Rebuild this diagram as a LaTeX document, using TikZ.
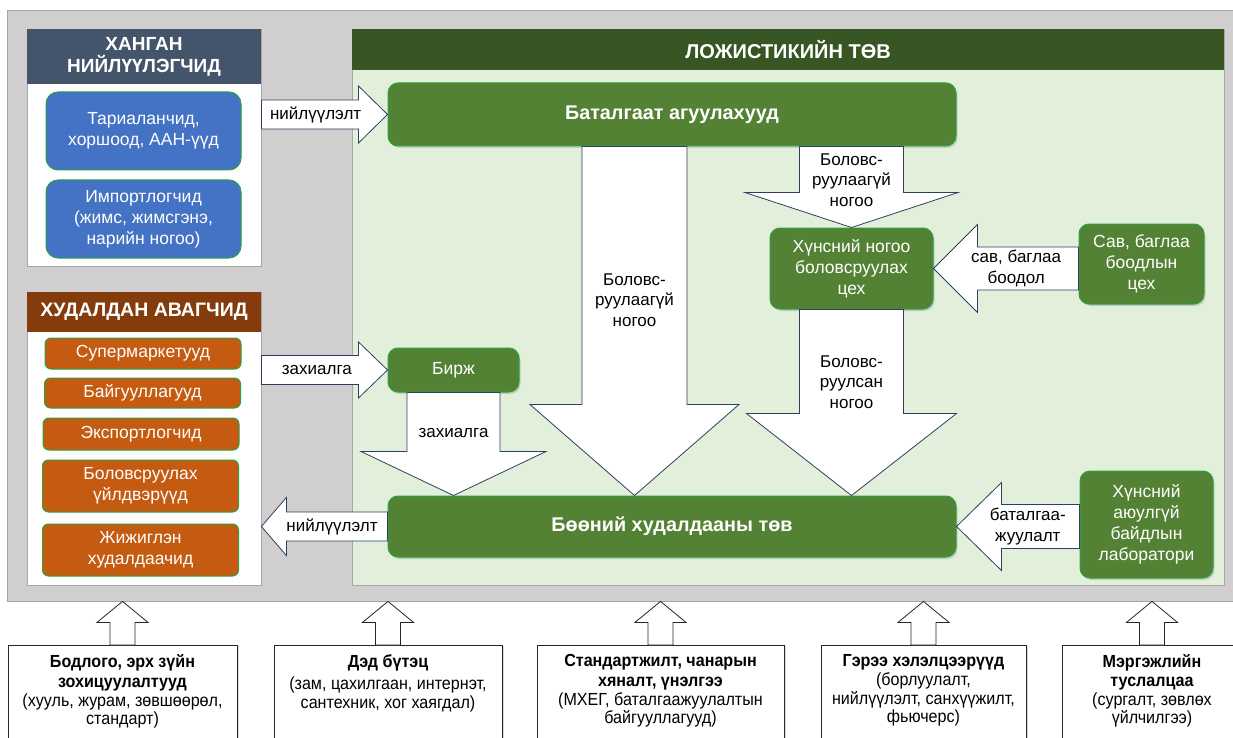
\documentclass[tikz,border=0pt]{standalone}
\usepackage{fontspec}
\setmainfont{Liberation Sans}
\newfontfamily\narrowfont{Liberation Sans}[FakeStretch=0.92]
\usetikzlibrary{calc,positioning,shadows}
\definecolor{panelgray}{HTML}{D0CECE}
\definecolor{edgegray}{HTML}{A6A6A6}
\definecolor{suphead}{HTML}{44546A}
\definecolor{buyhead}{HTML}{843C0C}
\definecolor{loghead}{HTML}{375623}
\definecolor{logbody}{HTML}{E2EFDA}
\definecolor{boxgreen}{HTML}{548235}
\definecolor{boxedge}{HTML}{2EA043}
\definecolor{boxblue}{HTML}{4472C4}
\definecolor{boxorange}{HTML}{C55A11}
\definecolor{arrowedge}{HTML}{2F3F5E}
\tikzset{
  panel/.style={draw=edgegray, fill=white, line width=0.8pt, inner sep=0pt},
  headbar/.style={inner sep=0pt, text=white, align=center, font=\bfseries\fontsize{19.5}{22}\selectfont},
  roundbox/.style={rounded corners=10pt, draw=boxedge, line width=1pt, text=white, align=center, inner sep=2pt, font=\fontsize{17.5}{21}\selectfont},
  greenbox/.style={roundbox, fill=boxgreen, drop shadow={shadow xshift=1.5pt, shadow yshift=-2pt, opacity=0.3}},
  bluebox/.style={roundbox, fill=boxblue, rounded corners=12pt},
  orangebox/.style={roundbox, fill=boxorange, rounded corners=6pt},
  flowlabel/.style={inner sep=0pt, align=center, text=black, font=\fontsize{17}{20.5}\selectfont},
  bigarrow/.style={draw=arrowedge, fill=white, line width=0.8pt},
  uparrow/.style={draw=black!85, fill=white, line width=0.8pt},
  botbox/.style={draw=black!85, fill=white, line width=0.8pt, drop shadow={shadow xshift=2pt, shadow yshift=-1pt, opacity=0.3}},
  bottext/.style={inner sep=0pt, align=center, font=\narrowfont\fontsize{17.5}{18.5}\selectfont},
}
% block arrow: [style]{start}{tip}{shaft half}{head half}{head length}{label pos}{label}
\newcounter{blk}
\newcommand{\blockarrow}[8][bigarrow]{%
  \stepcounter{blk}%
  \coordinate (ba-s) at #2;
  \coordinate (ba-t) at #3;
  \coordinate (ba-b) at ($(ba-t)!#6!(ba-s)$);
  \draw[#1] ($(ba-s)!#4!90:(ba-t)$) -- ($(ba-b)!#4!90:(ba-t)$) -- ($(ba-b)!#5!90:(ba-t)$)
    -- (ba-t) -- ($(ba-b)!#5!-90:(ba-t)$) -- ($(ba-b)!#4!-90:(ba-t)$) -- ($(ba-s)!#4!-90:(ba-t)$) -- cycle;
  \node[flowlabel] (lbl-\theblk) at ($(ba-s)!#7!(ba-t)$) {#8};
}

\begin{document}
\begin{tikzpicture}[x=1pt,y=-1pt]
\useasboundingbox (0,0) rectangle (1233,738);
\clip (0,0) rectangle (1233,738);
% background panels
\node[panel, fill=panelgray, minimum width=1226, minimum height=591] (grey) at (620,305.5) {};
\node[panel, minimum width=234, minimum height=237] (supplier) at (144,147.5) {};
\node[headbar, fill=suphead, minimum width=234, minimum height=55, font=\bfseries\fontsize{19}{22}\selectfont] (suphd) at (144,56.5) {ХАНГАН\\НИЙЛҮҮЛЭГЧИД};
\node[panel, minimum width=234, minimum height=293] (buyer) at (144,438.5) {};
\node[headbar, fill=buyhead, minimum width=234, minimum height=40] (buyhd) at (144,312) {ХУДАЛДАН АВАГЧИД};
\node[panel, fill=logbody, minimum width=872, minimum height=556] (logis) at (788,307) {};
\node[headbar, fill=loghead, minimum width=872, minimum height=41, font=\bfseries\fontsize{20}{22}\selectfont] (loghd) at (788,49.5) {ЛОЖИСТИКИЙН ТӨВ};

% suppliers
\node[bluebox, minimum width=195, minimum height=78] (farmer) at (143.5,131) {Тариаланчид,\\хоршоод, ААН-үүд};
\node[bluebox, minimum width=195, minimum height=78] (import) at (143.5,219) {Импортлогчид\\(жимс, жимсгэнэ,\\нарийн ногоо)};

% buyers
\node[orangebox, minimum width=196, minimum height=31] (market) at (143,353.5) {Супермаркетууд};
\node[orangebox, minimum width=196, minimum height=30] (orgs) at (142.5,393) {Байгууллагууд};
\node[orangebox, minimum width=196, minimum height=32] (export) at (141,434) {Экспортлогчид};
\node[orangebox, minimum width=196, minimum height=52] (factory) at (140.5,486) {Боловсруулах\\үйлдвэрүүд};
\node[orangebox, minimum width=196, minimum height=52] (retail) at (140.5,550) {Жижиглэн\\худалдаачид};

% logistics centre
\node[greenbox, minimum width=568, minimum height=63, font=\bfseries\fontsize{19.8}{22}\selectfont] (store) at (672,114.5) {Баталгаат агуулахууд};
\node[greenbox, minimum width=131, minimum height=44] (birzh) at (453.5,370) {Бирж};
\node[greenbox, minimum width=568, minimum height=61, font=\bfseries\fontsize{19.8}{22}\selectfont] (whole) at (672,526.5) {Бөөний худалдааны төв};
\node[greenbox, minimum width=163, minimum height=81] (veg) at (851.5,268.5) {Хүнсний ногоо\\боловсруулах\\цех};
\node[greenbox, minimum width=125, minimum height=80] (pack) at (1141.5,264) {Сав, баглаа\\боодлын\\цех};
\node[greenbox, minimum width=133, minimum height=107] (lab) at (1146.5,524.5) {Хүнсний\\аюулгүй\\байдлын\\лаборатори};

% flows
\blockarrow{(supplier.east |- store.west)}{(store.west)}{14.5pt}{28.5pt}{29pt}{0.43}{нийлүүлэлт}
\blockarrow{(buyer.east |- birzh.west)}{(birzh.west)}{14.5pt}{28pt}{29pt}{0.44}{захиалга}
\blockarrow{(birzh.south)}{(birzh.south |- whole.north)}{46.5pt}{92.5pt}{44pt}{0.39}{захиалга}
\blockarrow{(634.5,0 |- store.south)}{(634.5,0 |- whole.north)}{52.5pt}{104.5pt}{91pt}{0.44}{Боловс-\\руулаагүй\\ногоо}
\blockarrow{(veg.north |- store.south)}{(veg.north)}{52pt}{106.5pt}{35pt}{0.415}{Боловс-\\руулаагүй\\ногоо}
\blockarrow{(veg.south)}{(veg.south |- whole.north)}{52pt}{105pt}{82pt}{0.39}{Боловс-\\руулсан\\ногоо}
\blockarrow{(pack.west |- veg.east)}{(veg.east)}{21.5pt}{44pt}{44pt}{0.43}{сав, баглаа\\боодол}
\blockarrow{(lab.west |- whole.east)}{(whole.east)}{22pt}{44pt}{45pt}{0.42}{баталгаа-\\жуулалт}
\blockarrow{(whole.west)}{(buyer.east |- whole.west)}{14.5pt}{29pt}{25pt}{0.44}{нийлүүлэлт}

% supporting conditions
\node[botbox, minimum width=229, minimum height=110, anchor=north] (policy) at (122.5,645) {};
\node[botbox, minimum width=228, minimum height=110, anchor=north] (infra) at (388,645) {};
\node[botbox, minimum width=247, minimum height=110, anchor=north] (stand) at (660.5,645) {};
\node[botbox, minimum width=205, minimum height=110, anchor=north] (contract) at (923.5,645) {};
\node[botbox, minimum width=180, minimum height=110, anchor=north] (expert) at (1152,645) {};
\node[bottext, below=9pt of policy.north] (policy-t) {\bfseries Бодлого, эрх зүйн\\[2pt]\bfseries зохицуулалтууд\\(хууль, журам, зөвшөөрөл,\\стандарт)};
\node[bottext, below=9pt of infra.north] (infra-t) {\bfseries Дэд бүтэц\\[4pt](зам, цахилгаан, интернэт,\\сантехник, хог хаягдал)};
\node[bottext, below=9pt of stand.north] (stand-t) {\bfseries Стандартжилт, чанарын\\[2pt]\bfseries хяналт, үнэлгээ\\(МХЕГ, баталгаажуулалтын\\байгууллагууд)};
\node[bottext, below=9pt of contract.north] (contract-t) {\bfseries Гэрээ хэлэлцээрүүд\\[1pt](борлуулалт,\\нийлүүлэлт, санхүүжилт,\\фьючерс)};
\node[bottext, below=9pt of expert.north] (expert-t) {\bfseries Мэргэжлийн\\[1pt]\bfseries туслалцаа\\(сургалт, зөвлөх\\үйлчилгээ)};
\foreach \b in {policy,infra,stand,contract,expert}
  \blockarrow[uparrow]{(\b.north)}{(\b.north |- grey.south)}{12.5pt}{25.5pt}{21pt}{0.5}{};
\end{tikzpicture}
\end{document}
